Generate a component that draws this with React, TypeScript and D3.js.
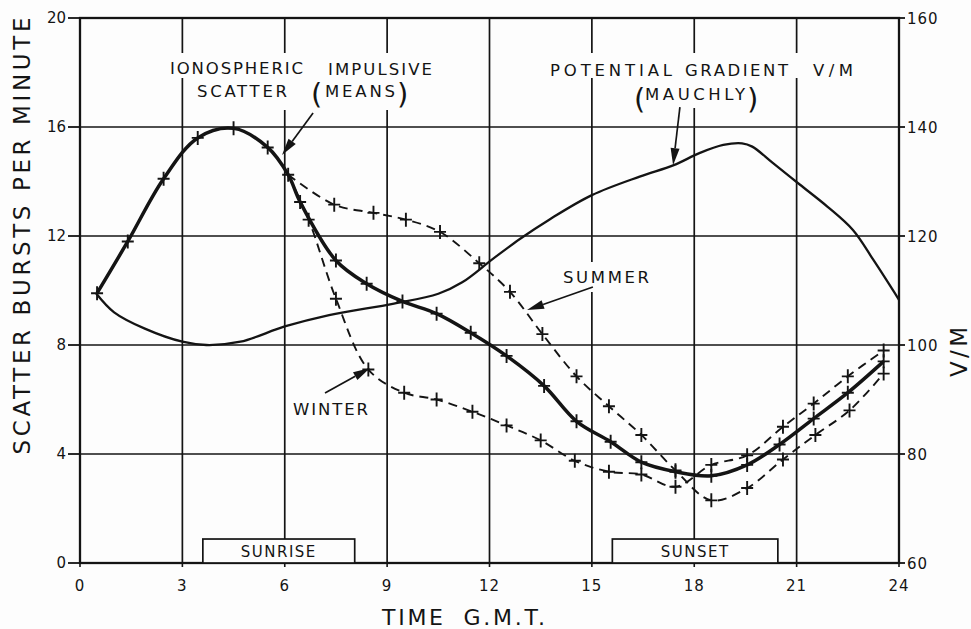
import React, { useRef, useEffect } from "react";
import * as d3 from "d3";

// hourly means (time in hours G.M.T., bursts / minute)
const meansHours = [0.5, 1.4, 2.45, 3.45, 4.5, 5.5, 6.1, 6.45, 7.5, 8.4, 9.45, 10.45, 11.45, 12.5, 13.6, 14.55, 15.55, 16.45, 17.45, 18.5, 19.55, 20.5, 21.5, 22.5, 23.55];
const meansBursts = [9.9, 11.8, 14.1, 15.6, 15.95, 15.25, 14.25, 13.25, 11.1, 10.25, 9.6, 9.15, 8.45, 7.6, 6.5, 5.2, 4.45, 3.7, 3.35, 3.2, 3.6, 4.35, 5.3, 6.25, 7.4];

const summerHours = [6.1, 7.45, 8.6, 9.55, 10.55, 11.7, 12.6, 13.55, 14.55, 15.5, 16.45, 17.45, 18.5, 19.55, 20.6, 21.55, 22.55, 23.55];
const summerBursts = [14.25, 13.15, 12.85, 12.6, 12.15, 11.0, 9.95, 8.4, 6.85, 5.75, 4.7, 3.4, 2.3, 2.75, 3.8, 4.7, 5.6, 6.95];

const winterHours = [6.1, 6.7, 7.5, 8.45, 9.5, 10.45, 11.5, 12.5, 13.5, 14.5, 15.5, 16.45, 17.45, 18.5, 19.55, 20.6, 21.5, 22.5, 23.55];
const winterBursts = [14.25, 12.6, 9.7, 7.1, 6.25, 6.0, 5.55, 5.05, 4.5, 3.75, 3.35, 3.25, 2.8, 3.6, 3.95, 5.0, 5.85, 6.85, 7.8];

// potential gradient (Mauchly), V/M on the right axis
const gradientHours = [0.47, 1.0, 1.9, 3.0, 3.7, 4.7, 6.0, 7.3, 9.2, 10.5, 11.2, 12.1, 12.9, 13.75, 15.0, 16.4, 17.4, 18.15, 18.85, 19.4, 19.7, 20.3, 21.1, 21.9, 22.65, 23.25, 24.0];
const gradientVm = [109.5, 106.0, 103.0, 100.6, 100.0, 100.6, 103.4, 105.5, 107.6, 109.4, 111.5, 115.8, 119.5, 123.0, 127.5, 130.9, 133.0, 135.2, 136.7, 137.0, 136.4, 133.4, 129.4, 125.4, 121.1, 115.6, 108.3];

const timeTicks = [0, 3, 6, 9, 12, 15, 18, 21, 24];
const burstTicks = [0, 4, 8, 12, 16, 20];
const vmTicks = [60, 80, 100, 120, 140, 160];

const sunriseSpan = [3.6, 8.05];
const sunsetSpan = [15.6, 20.45];

const W = 971, H = 629;
const FONT = "DejaVu Sans";
const INK = "#141414";

export default function App() {
  const svgRef = useRef<SVGSVGElement>(null);

  useEffect(() => {
    const svg = d3.select(svgRef.current);
    svg.selectAll("*").remove();

    const x = d3.scaleLinear().domain([0, 24]).range([80, 899]);
    const y = d3.scaleLinear().domain([0, 20]).range([563, 18]);
    const yR = d3.scaleLinear().domain([60, 160]).range([563, 18]);

    svg.append("rect").attr("width", W).attr("height", H).attr("fill", "#fdfdfd");

    const grid = svg.append("g").attr("stroke", INK).attr("fill", "none");
    // vertical grid
    timeTicks.slice(1, -1).forEach((t) => {
      grid.append("line").attr("x1", x(t)).attr("x2", x(t)).attr("y1", y(0)).attr("y2", y(20)).attr("stroke-width", 1.7);
    });
    burstTicks.slice(1, -1).forEach((b) => {
      grid.append("line").attr("x1", x(0)).attr("x2", x(24)).attr("y1", y(b)).attr("y2", y(b)).attr("stroke-width", 1.7);
    });
    // frame
    grid.append("rect").attr("x", x(0)).attr("y", y(20)).attr("width", x(24) - x(0)).attr("height", y(0) - y(20)).attr("stroke-width", 2.3);

    // ticks
    burstTicks.forEach((b) => {
      grid.append("line").attr("x1", x(0) - 12).attr("x2", x(0)).attr("y1", y(b)).attr("y2", y(b)).attr("stroke-width", 1.8);
    });
    vmTicks.forEach((v) => {
      grid.append("line").attr("x1", x(24)).attr("x2", x(24) + 6).attr("y1", yR(v)).attr("y2", yR(v)).attr("stroke-width", 1.8);
    });
    timeTicks.forEach((t) => {
      grid.append("line").attr("x1", x(t)).attr("x2", x(t)).attr("y1", y(0)).attr("y2", y(0) + 4).attr("stroke-width", 1.6);
    });

    // white gaps in the grid behind the lettering
    const gaps = [
      [165, 53, 436, 78],
      [192, 78, 412, 110],
      [545, 53, 858, 78],
      [632, 78, 762, 108],
      [558, 262, 652, 292],
    ];
    gaps.forEach(([a, b, c, d]) => {
      svg.append("rect").attr("x", a).attr("y", b).attr("width", c - a).attr("height", d - b).attr("fill", "#fdfdfd");
    });

    // sunrise / sunset boxes
    const boxes: [number[], string][] = [[sunriseSpan, "SUNRISE"], [sunsetSpan, "SUNSET"]];
    boxes.forEach(([span, label]) => {
      const bx = x(span[0]), bw = x(span[1]) - x(span[0]);
      svg.append("rect").attr("x", bx).attr("y", y(0.88)).attr("width", bw).attr("height", y(0) - y(0.88))
        .attr("fill", "#fdfdfd").attr("stroke", INK).attr("stroke-width", 1.7);
      svg.append("text").attr("x", bx + bw / 2).attr("y", y(0) - 6).attr("text-anchor", "middle")
        .attr("font-family", FONT).attr("font-size", 15).attr("letter-spacing", 1.5).attr("fill", INK).text(label);
    });

    const line = d3.line<[number, number]>().curve(d3.curveCatmullRom.alpha(0.5));
    const pts = (hs: number[], vs: number[], sc: d3.ScaleLinear<number, number>) =>
      hs.map((h, i) => [x(h), sc(vs[i])] as [number, number]);

    // potential gradient
    svg.append("path").attr("d", line(pts(gradientHours, gradientVm, yR))).attr("fill", "none")
      .attr("stroke", INK).attr("stroke-width", 2.3);

    // summer / winter dashed
    [[summerHours, summerBursts], [winterHours, winterBursts]].forEach(([hs, vs]) => {
      svg.append("path").attr("d", line(pts(hs, vs, y))).attr("fill", "none").attr("stroke", INK)
        .attr("stroke-width", 1.9).attr("stroke-dasharray", "9,6");
    });
    // means
    svg.append("path").attr("d", line(pts(meansHours, meansBursts, y))).attr("fill", "none")
      .attr("stroke", INK).attr("stroke-width", 3.5).attr("stroke-linejoin", "round");

    // plus markers
    const plus = (px: number, py: number) =>
      svg.append("path").attr("d", `M${px - 6},${py}H${px + 6}M${px},${py - 7}V${py + 7}`)
        .attr("stroke", INK).attr("stroke-width", 1.9).attr("fill", "none");
    meansHours.forEach((h, i) => plus(x(h), y(meansBursts[i])));
    summerHours.forEach((h, i) => { if (i > 0) plus(x(h), y(summerBursts[i])); });
    winterHours.forEach((h, i) => { if (i > 0) plus(x(h), y(winterBursts[i])); });

    // arrows, in data units
    const arrow = (h1: number, v1: number, h2: number, v2: number) => {
      const x1 = x(h1), y1 = y(v1), x2 = x(h2), y2 = y(v2);
      const len = Math.hypot(x2 - x1, y2 - y1);
      const ux = (x2 - x1) / len, uy = (y2 - y1) / len;
      const L = 17, w = 4.5;
      const bx = x2 - ux * L, by = y2 - uy * L;
      svg.append("line").attr("x1", x1).attr("y1", y1).attr("x2", bx).attr("y2", by)
        .attr("stroke", INK).attr("stroke-width", 1.7);
      svg.append("path").attr("d", `M${x2},${y2}L${bx - uy * w},${by + ux * w}L${bx + uy * w},${by - ux * w}Z`).attr("fill", INK);
    };
    arrow(6.83, 16.51, 5.92, 14.97);
    arrow(17.58, 16.73, 17.38, 14.6);
    arrow(15.03, 10.13, 13.1, 9.28);
    arrow(7.18, 6.24, 8.5, 7.16);

    // lettering
    const label = (tx: number, ty: number, s: string, size: number, tl?: number) => {
      const t = svg.append("text").attr("x", tx).attr("y", ty).attr("font-family", FONT)
        .attr("font-size", size).attr("fill", INK).text(s);
      if (tl) t.attr("textLength", tl).attr("lengthAdjust", "spacing");
      return t;
    };
    label(170, 74, "IONOSPHERIC", 16.5, 133);
    label(328, 75, "IMPULSIVE", 16.5, 104);
    label(197, 97, "SCATTER", 16.5, 90);
    label(311, 104, "(", 29);
    label(325, 97, "MEANS", 16.5, 70);
    label(397, 104, ")", 29);
    label(550, 76, "POTENTIAL", 16.5, 122);
    label(685, 76, "GRADIENT", 16.5, 103);
    label(813, 76, "V/M", 16.5, 40);
    label(634, 109, "(", 29);
    label(645, 100, "MAUCHLY", 16.5, 100);
    label(747, 109, ")", 29);
    label(563, 283, "SUMMER", 16.5, 86);
    label(293, 415, "WINTER", 16.5, 75);

    // axis numbers
    burstTicks.forEach((b) => {
      label(66, y(b) + 5, String(b), 15).attr("text-anchor", "end");
    });
    vmTicks.forEach((v) => {
      label(907, yR(v) + 6, String(v), 15).attr("letter-spacing", 1);
    });
    timeTicks.forEach((t) => {
      label(x(t), 591, String(t), 15).attr("text-anchor", "middle").attr("letter-spacing", 1);
    });

    // axis titles
    label(382, 625, "TIME G.M.T.", 22, 163).attr("word-spacing", 8);
    svg.append("text").attr("transform", "translate(30,236) rotate(-90)").attr("text-anchor", "middle")
      .attr("font-family", FONT).attr("font-size", 23).attr("fill", INK)
      .attr("textLength", 437).attr("lengthAdjust", "spacing").text("SCATTER BURSTS PER MINUTE");
    svg.append("text").attr("transform", "translate(967,352) rotate(-90)").attr("text-anchor", "middle")
      .attr("font-family", FONT).attr("font-size", 23).attr("fill", INK)
      .attr("textLength", 50).attr("lengthAdjust", "spacing").text("V/M");
  }, []);

  return (
    <svg ref={svgRef} width={W} height={H} style={{ position: "absolute", left: 0, top: 0 }} />
  );
}
